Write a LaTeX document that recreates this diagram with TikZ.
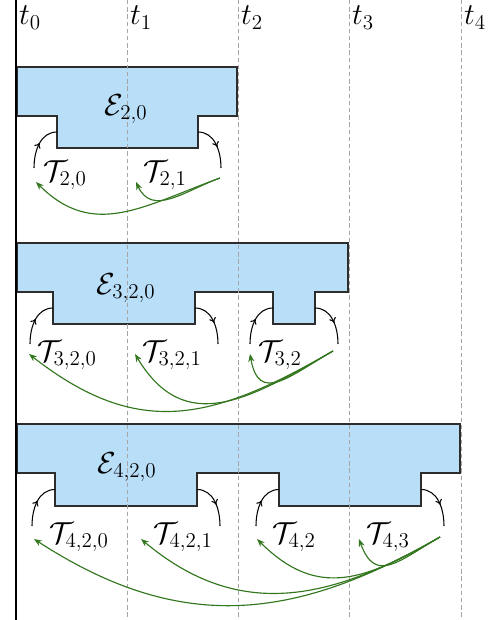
\documentclass[tikz,border=0pt]{standalone}
\usepackage{amsmath}
\usepackage{tikz}
\usetikzlibrary{arrows.meta, positioning, decorations.markings}
\definecolor{blockfill}{RGB}{184,222,248}
\definecolor{blockedge}{RGB}{45,45,45}
\definecolor{gridgray}{RGB}{165,165,165}
\definecolor{mygreen}{RGB}{50,118,30}
\tikzset{
  block/.style={draw=blockedge, fill=blockfill, line width=0.8pt},
  gridline/.style={gridgray, line width=0.5pt, dash pattern=on 2.5pt off 1.6pt},
  tarrow/.style={line width=0.6pt, postaction={decorate},
    decoration={markings, mark=at position 0.55 with {\arrow{To[length=3pt,width=4pt]}}}},
  garrow/.style={-{Stealth[length=4.5pt,width=3.5pt]}, mygreen, line width=0.65pt},
  lbl/.style={font=\LARGE, inner sep=1pt}
}

\begin{document}
\begin{tikzpicture}
  \useasboundingbox (0,0) rectangle (9.9,12.4);

  % --- Blocks ---
  \draw[block] (0.34,11.06) -- (4.74,11.06) -- (4.74,10.08) -- (3.96,10.08) -- (3.96,9.44)
    -- (1.14,9.44) -- (1.14,10.08) -- (0.34,10.08) -- cycle;
  \draw[block] (0.34,7.54) -- (6.96,7.54) -- (6.96,6.56) -- (6.30,6.56) -- (6.30,5.92)
    -- (5.46,5.92) -- (5.46,6.56) -- (3.90,6.56) -- (3.90,5.92)
    -- (1.06,5.92) -- (1.06,6.56) -- (0.34,6.56) -- cycle;
  \draw[block] (0.34,3.92) -- (9.20,3.92) -- (9.20,2.94) -- (8.42,2.94) -- (8.42,2.28)
    -- (5.58,2.28) -- (5.58,2.94) -- (3.94,2.94) -- (3.94,2.28)
    -- (1.10,2.28) -- (1.10,2.94) -- (0.34,2.94) -- cycle;

  % --- Time axis ---
  \draw[line width=0.6pt] (0.32,12.4) -- (0.32,0) coordinate (t0);
  \foreach \i/\x in {1/2.54, 2/4.76, 3/6.98, 4/9.22}
    \draw[gridline] (\x,12.4) -- (\x,0) coordinate (t\i);
  \foreach \i/\x in {0/0.32, 1/2.54, 2/4.76, 3/6.98, 4/9.22}
    \node[lbl, anchor=north west] (tl\i) at (\x+0.02,12.32) {$t_{\i}$};

  % --- E_{2,0} ---
  \node[lbl] (e20) at (2.52,10.22) {$\mathcal{E}_{2,0}$};
  \draw[tarrow] (0.68,9.04) to[out=90, in=180] (1.14,9.76);
  \draw[tarrow] (3.96,9.76) to[out=0, in=90] (4.42,9.04);
  \node[lbl] (t20) at (1.30,8.90) {$\mathcal{T}_{2,0}$};
  \node[lbl] (t21) at (3.30,8.90) {$\mathcal{T}_{2,1}$};
  \coordinate (g2) at (4.40,8.84);
  \coordinate (g20) at (0.72,8.76);
  \coordinate (g21) at (2.72,8.76);
  \draw[garrow] (g2) to[out=200, in=-45, looseness=1.13] (g20);
  \draw[garrow] (g2) to[out=200, in=-65, looseness=1.17] (g21);

  % --- E_{3,2,0} ---
  \node[lbl] (e320) at (2.52,6.64) {$\mathcal{E}_{3,2,0}$};
  \draw[tarrow] (0.60,5.52) to[out=90, in=180] (1.06,6.24);
  \draw[tarrow] (3.90,6.24) to[out=0, in=90] (4.36,5.52);
  \draw[tarrow] (5.00,5.52) to[out=90, in=180] (5.46,6.24);
  \draw[tarrow] (6.30,6.24) to[out=0, in=90] (6.76,5.52);
  \node[lbl] (t320) at (1.34,5.30) {$\mathcal{T}_{3,2,0}$};
  \node[lbl] (t321) at (3.44,5.30) {$\mathcal{T}_{3,2,1}$};
  \node[lbl] (t32) at (5.60,5.30) {$\mathcal{T}_{3,2}$};
  \coordinate (g3) at (6.66,5.38);
  \coordinate (g320) at (0.58,5.32);
  \coordinate (g321) at (2.70,5.32);
  \coordinate (g32) at (5.00,5.32);
  \draw[garrow] (g3) to[out=210, in=-38, looseness=1.17] (g320);
  \draw[garrow] (g3) to[out=210, in=-59, looseness=1.25] (g321);
  \draw[garrow] (g3) to[out=210, in=-80, looseness=1.57] (g32);

  % --- E_{4,2,0} ---
  \node[lbl] (e420) at (2.54,3.06) {$\mathcal{E}_{4,2,0}$};
  \draw[tarrow] (0.64,1.88) to[out=90, in=180] (1.10,2.61);
  \draw[tarrow] (3.94,2.61) to[out=0, in=90] (4.40,1.88);
  \draw[tarrow] (5.12,1.88) to[out=90, in=180] (5.58,2.61);
  \draw[tarrow] (8.42,2.61) to[out=0, in=90] (8.88,1.88);
  \node[lbl] (t420) at (1.58,1.66) {$\mathcal{T}_{4,2,0}$};
  \node[lbl] (t421) at (3.66,1.66) {$\mathcal{T}_{4,2,1}$};
  \node[lbl] (t42) at (5.88,1.66) {$\mathcal{T}_{4,2}$};
  \node[lbl] (t43) at (7.76,1.66) {$\mathcal{T}_{4,3}$};
  \coordinate (g4) at (8.80,1.66);
  \coordinate (g420) at (0.68,1.62);
  \coordinate (g421) at (2.82,1.62);
  \coordinate (g42) at (5.14,1.62);
  \coordinate (g43) at (7.18,1.62);
  \draw[garrow] (g4) to[out=210, in=-33, looseness=1.08] (g420);
  \draw[garrow] (g4) to[out=210, in=-40, looseness=1.09] (g421);
  \draw[garrow] (g4) to[out=210, in=-45, looseness=1.2] (g42);
  \draw[garrow] (g4) to[out=210, in=-70, looseness=1.52] (g43);
\end{tikzpicture}
\end{document}
